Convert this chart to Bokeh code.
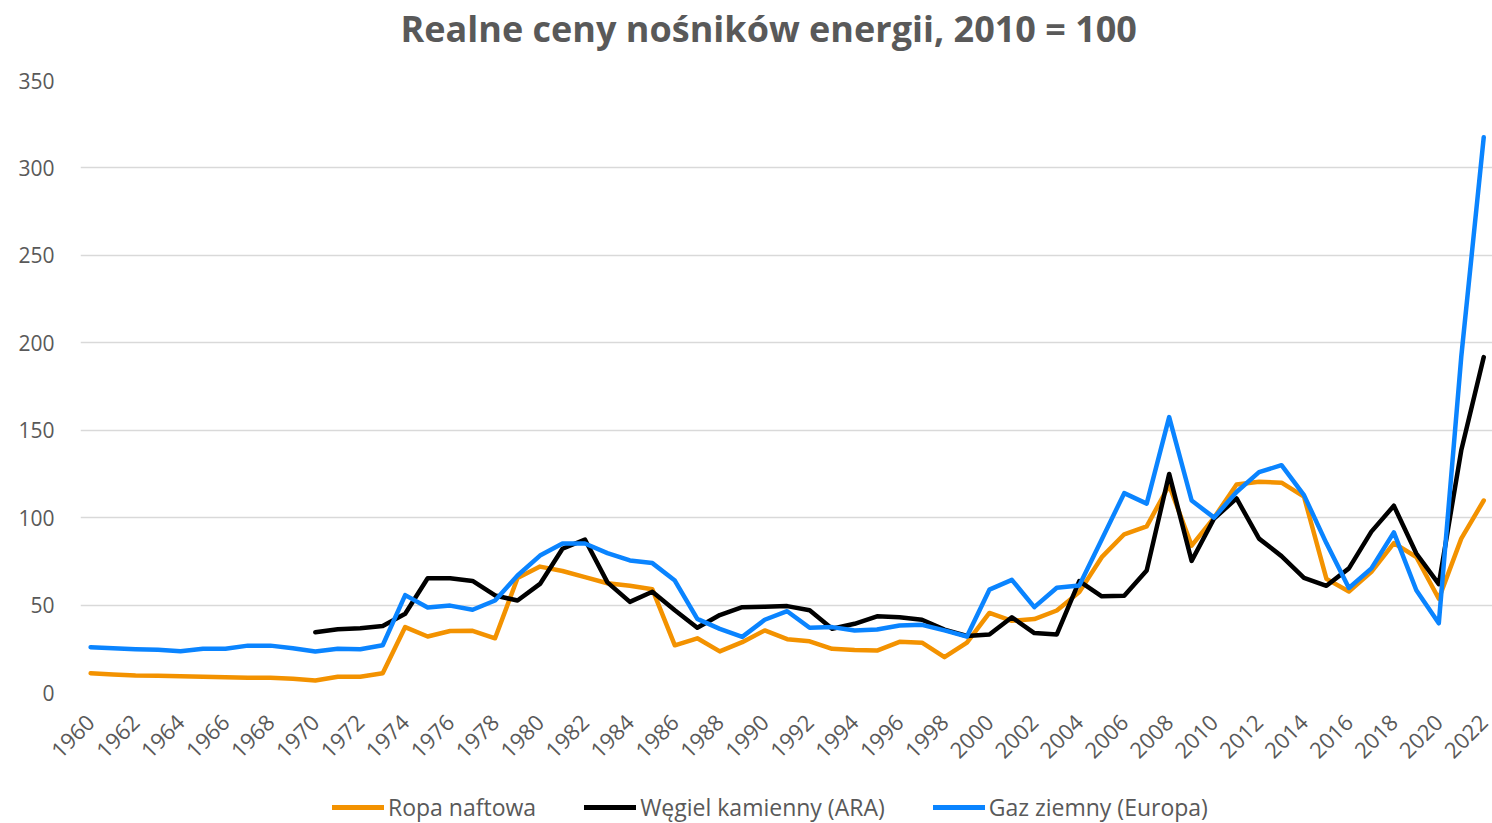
import numpy as np
from bokeh.plotting import figure
from bokeh.layouts import column
from bokeh.models import Range1d, FixedTicker, Legend, LegendItem, ColumnDataSource, Title
from bokeh.embed import file_html
from bokeh.resources import INLINE

years = list(range(1960, 2023))

oil = [11.0, 10.3, 9.7, 9.6, 9.3, 9.0, 8.7, 8.5, 8.4, 7.8,
       6.9, 9.0, 9.0, 11.0, 37.4, 32.0, 35.2, 35.3, 31.0, 65.5,
       72.0, 69.5, 66.0, 62.5, 61.0, 59.0, 27.0, 31.0, 23.5, 28.8,
       35.5, 30.5, 29.3, 25.0, 24.3, 24.0, 29.0, 28.5, 20.2, 28.5,
       45.5, 41.0, 42.0, 46.9, 57.4, 77.4, 90.5, 95.0, 118.5, 84.0,
       100.0, 119.0, 120.5, 120.0, 112.0, 65.0, 57.8, 69.0, 85.4, 77.5,
       53.6, 88.0, 109.8]

coal_years = list(range(1970, 2023))
coal = [34.5, 36.2, 36.8, 38.0, 45.0, 65.3, 65.3, 63.8, 55.5, 52.6,
        62.1, 82.2, 87.5, 63.0, 51.8, 57.6, 47.0, 37.0, 44.3, 48.8,
        49.0, 49.4, 47.0, 36.5, 39.3, 43.6, 43.0, 41.6, 36.0, 32.3,
        33.2, 43.0, 34.0, 33.2, 63.7, 55.0, 55.3, 69.8, 125.0, 75.3,
        99.5, 111.0, 88.0, 78.0, 65.5, 61.0, 71.0, 92.0, 106.8, 79.5,
        62.0, 138.5, 191.8]

gas = [25.9, 25.3, 24.8, 24.4, 23.6, 25.0, 25.0, 26.8, 26.8, 25.3,
       23.4, 25.0, 24.7, 27.0, 55.7, 48.6, 49.7, 47.3, 52.6, 66.9,
       78.3, 85.2, 85.2, 79.7, 75.5, 74.0, 64.0, 42.1, 36.4, 31.8,
       41.6, 46.5, 37.0, 37.4, 35.5, 36.0, 38.3, 38.7, 35.5, 32.0,
       58.8, 64.4, 48.8, 59.9, 61.2, 87.5, 114.0, 108.0, 157.5, 109.8,
       100.0, 114.7, 126.0, 130.0, 112.9, 85.3, 59.8, 71.0, 91.6, 58.5,
       39.6, 192.0, 317.5]

series_names = ["Ropa naftowa", "Węgiel kamienny (ARA)", "Gaz ziemny (Europa)"]
series_colors = ["#F39200", "#000000", "#0A84FF"]
y_ticks = [0, 50, 100, 150, 200, 250, 300, 350]
x_ticks = list(range(1960, 2023, 2))
title_text = "Realne ceny nośników energii, 2010 = 100"

FONT = "Open Sans"
GREY = "#595959"
LW = 4.5

p = figure(width=1492, height=775, output_backend="svg", toolbar_location=None,
           x_range=Range1d(1959.55, 2022.39), y_range=Range1d(0, 350),
           min_border_left=80, min_border_right=0, min_border_top=80,
           min_border_bottom=83)

# spacer between title and plot area (empty-looking title row)
p.add_layout(Title(text=" ", text_font_size="10px", standoff=15), "above")

p.title.text = title_text
p.title.align = "left"
p.title.offset = 320
p.title.standoff = 0
p.title.text_font = FONT
p.title.text_font_size = "36px"
p.title.text_font_style = "bold"
p.title.text_color = GREY

p.outline_line_color = None
p.background_fill_color = "white"
p.border_fill_color = "white"

p.xgrid.grid_line_color = None
p.ygrid.grid_line_color = "#D9D9D9"
p.ygrid.grid_line_width = 1.5

p.yaxis.ticker = FixedTicker(ticks=y_ticks)
p.yaxis.axis_line_color = None
p.yaxis.major_tick_line_color = None
p.yaxis.minor_tick_line_color = None
p.yaxis.major_label_standoff = 20
p.yaxis.major_label_text_font = FONT
p.yaxis.major_label_text_font_size = "21px"
p.yaxis.major_label_text_color = GREY

p.xaxis.ticker = FixedTicker(ticks=x_ticks)
p.xaxis.axis_line_color = None
p.xaxis.major_tick_line_color = None
p.xaxis.minor_tick_line_color = None
p.xaxis.major_label_orientation = np.pi / 4
p.xaxis.major_label_standoff = 20
p.xaxis.major_label_text_font = FONT
p.xaxis.major_label_text_font_size = "22px"
p.xaxis.major_label_text_color = GREY

src = ColumnDataSource(dict(year=years, oil=oil, gas=gas))
src_coal = ColumnDataSource(dict(year=coal_years, coal=coal))

p.line("year", "oil", source=src, line_color=series_colors[0], line_width=LW,
       line_join="round", line_cap="round")
p.line("year", "coal", source=src_coal, line_color=series_colors[1], line_width=LW,
       line_join="round", line_cap="round")
p.line("year", "gas", source=src, line_color=series_colors[2], line_width=LW,
       line_join="round", line_cap="round")

# legend strip below the chart
lf = figure(width=1492, height=48, output_backend="svg", toolbar_location=None,
            x_range=Range1d(0, 1), y_range=Range1d(0, 1),
            min_border_left=0, min_border_right=0, min_border_top=0, min_border_bottom=0)
lf.axis.visible = False
lf.grid.visible = False
lf.outline_line_color = None
lf.background_fill_color = "white"
lf.border_fill_color = "white"

items = []
for name, col in zip(series_names, series_colors):
    r = lf.line(x=np.array([np.nan]), y=np.array([np.nan]), line_color=col,
                line_width=LW + 0.5, line_cap="round")
    items.append(LegendItem(label=name, renderers=[r]))

legend = Legend(items=items, orientation="horizontal", location=(252, 0),
                glyph_width=52, glyph_height=20, label_standoff=4, spacing=48,
                padding=0, margin=0, border_line_color=None, background_fill_alpha=0,
                label_text_font=FONT, label_text_font_size="23px", label_text_color=GREY)
lf.add_layout(legend)

layout = column(p, lf, spacing=0)
open("out.html", "w").write(file_html(layout, INLINE))
